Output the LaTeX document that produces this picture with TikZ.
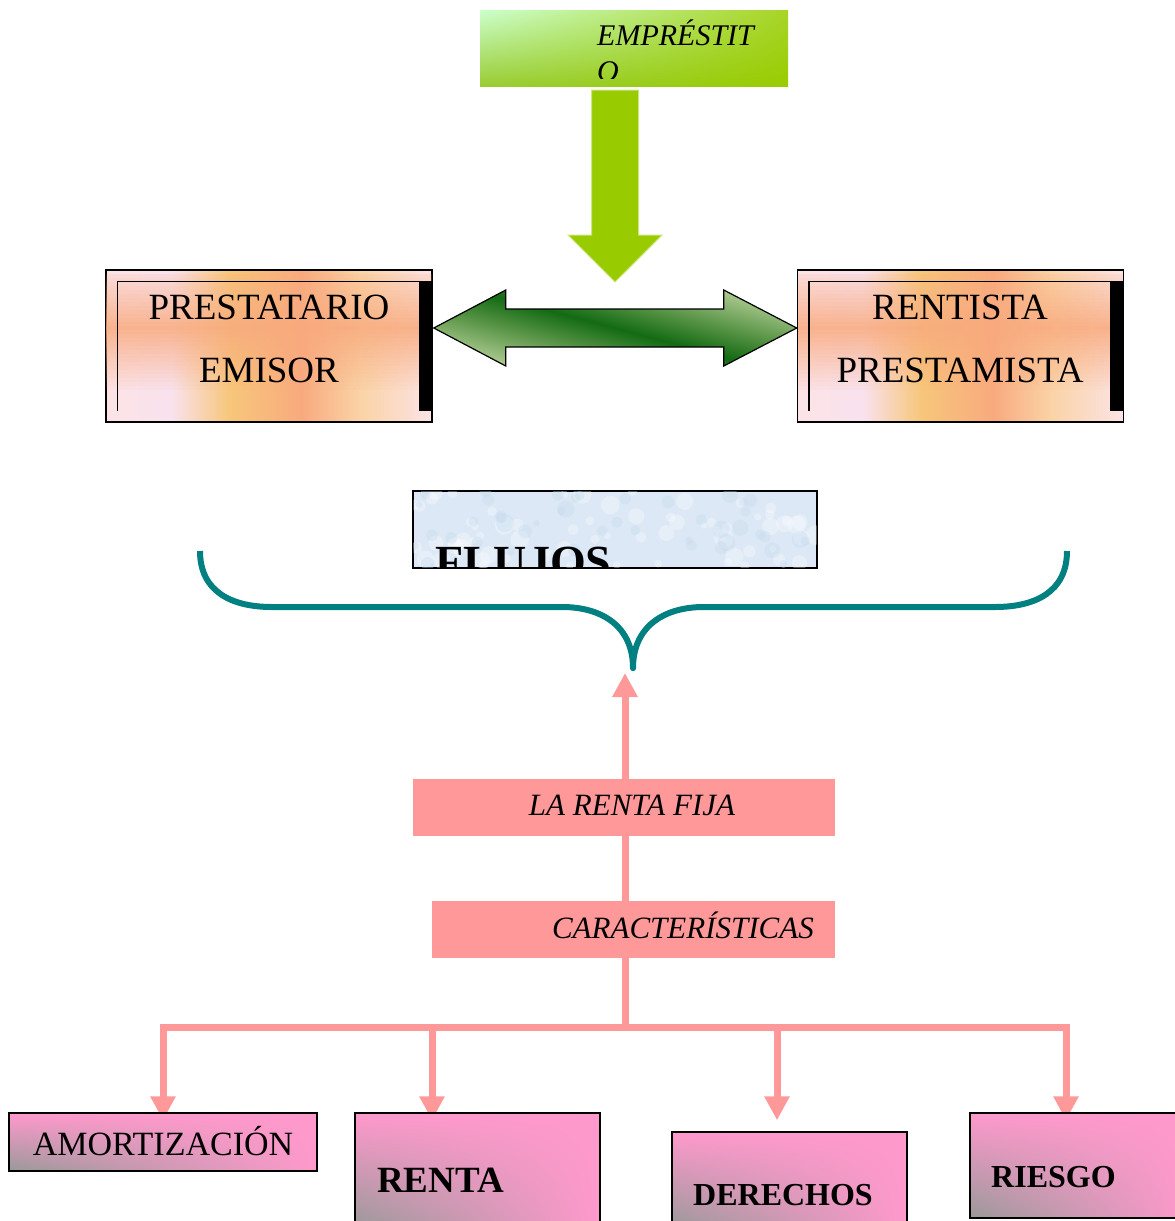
\documentclass[tikz,border=0pt]{standalone}
\usepackage{fontspec}
\setmainfont{Liberation Serif}
\usetikzlibrary{calc, arrows.meta, shadings, backgrounds}

\definecolor{limeGreen}{HTML}{99CC00}
\definecolor{mintGreen}{HTML}{CCFFCC}
\definecolor{oliveGreen}{HTML}{99CC33}
\definecolor{flowDark}{HTML}{136B13}
\definecolor{flowMid}{HTML}{4E8E3E}
\definecolor{flowLight}{HTML}{B5CF97}
\definecolor{sunPink}{HTML}{FCE3E6}
\definecolor{sunLilac}{HTML}{F9E2EE}
\definecolor{sunYellow}{HTML}{F7C67A}
\definecolor{sunOrange}{HTML}{F8AA7E}
\definecolor{sunPeach}{HTML}{FAD3A6}
\definecolor{skyBlue}{HTML}{DCE8F5}
\definecolor{skySpot}{HTML}{C6DAEE}
\definecolor{braceTeal}{HTML}{008080}
\definecolor{salmon}{HTML}{FF9999}
\definecolor{rosePink}{HTML}{FF99CC}
\definecolor{ashGray}{HTML}{999999}

\pgfdeclarehorizontalshading{sunset}{100bp}{
  color(0bp)=(sunPink); color(25bp)=(sunPink); color(35bp)=(sunLilac);
  color(44bp)=(sunYellow); color(55bp)=(sunOrange); color(64bp)=(sunPeach);
  color(75bp)=(sunPink); color(100bp)=(sunPink)}
\pgfdeclareverticalshading{flowband}{100bp}{
  color(0bp)=(flowLight); color(25bp)=(flowLight); color(41bp)=(flowMid);
  color(50bp)=(flowDark); color(59bp)=(flowMid); color(75bp)=(flowLight);
  color(100bp)=(flowLight)}

\tikzset{
  pinkLine/.style={salmon, line width=7pt},
  pinkArrow/.style={pinkLine, -{Triangle[width=24pt,length=24pt]}},
  limeBox/.style={inner sep=0pt, upper left=mintGreen,
    upper right=limeGreen!85!white, lower left=oliveGreen, lower right=limeGreen},
  sunBox/.style={draw=black, line width=1.5pt, shade, shading=sunset,
    inner sep=0pt, minimum width=326pt, minimum height=152pt},
  rosyBox/.style={draw=black, line width=1.5pt, inner sep=0pt,
    lower left=ashGray, upper left=rosePink, upper right=rosePink, lower right=rosePink},
  italicLabel/.style={font=\fontsize{31}{36}\selectfont\itshape, inner sep=0pt},
  plainLabel/.style={font=\fontsize{37}{63}\selectfont, align=center, inner sep=0pt},
  boldLabel/.style={font=\fontsize{32}{38}\selectfont\bfseries, inner sep=0pt}
}

\begin{document}
\begin{tikzpicture}[x=1pt, y=-1pt]
    \useasboundingbox (0,0) rectangle (1175,1221);

    % loan on top
    \node[limeBox, minimum width=308pt, minimum height=76pt] (loan) at (634,48) {};
    \begin{scope}
        \clip (loan.north west) rectangle ([yshift=8pt]loan.south east);
        \node[italicLabel, font=\fontsize{30}{36}\selectfont\itshape, anchor=north west, align=left]
            (loanTxt) at (597,20) {EMPRÉSTIT\\O};
    \end{scope}

    \coordinate (lendTip) at (615,282);
    \filldraw[limeGreen, draw=limeGreen!50!white, line width=1pt]
        (lendTip |- loan.south) ++(-23.5,4) -- ++(47,0) -- ++(0,145) -- ++(23.5,0)
        -- (lendTip) -- ++(-47,-47) -- ++(23.5,0) -- cycle;

    % both parties
    \node[sunBox] (borrower) at (269,346) {};
    \node[sunBox] (lender) at (960.5,346) {};
    \foreach \b in {borrower, lender} {
        % orange glow across the upper half, built from thin strips
        \foreach \k in {0,...,29}
            \fill[sunOrange, opacity={0.85*(1-abs(\k-13)/16)}]
                ($(\b.north west)+(1,5+4*\k)$) rectangle ($(\b.north east)+(-1,9.2+4*\k)$);
        \draw[line width=1.5pt] ($(\b.south west)+(12,-12)$) |- ($(\b.north east)+(-14,12)$);
        \fill ($(\b.north east)+(-14,12)$) rectangle ($(\b.south east)+(0,-12)$);
    }
    \node[plainLabel, anchor=north] (borrowerTxt) at (269,295) {PRESTATARIO\\EMISOR};
    \node[plainLabel, anchor=north] (lenderTxt) at (960,295) {RENTISTA\\PRESTAMISTA};

    \coordinate (flowL) at ($(borrower.east)+(1,-18)$);
    \coordinate (flowR) at ($(lender.west)+(0,-18)$);
    \shadedraw[shading=flowband, shading angle=-15, line width=1.2pt]
        (flowL) -- ++(72,-38) -- ++(0,19) -- ($(flowR)+(-73,-19)$) -- ++(0,-19)
        -- (flowR) -- ++(-73,38) -- ++(0,-19) -- ($(flowL)+(72,19)$) -- ++(0,19) -- cycle;

    % flows and the brace
    \node[draw=black, line width=1.5pt, fill=skyBlue, inner sep=0pt,
        minimum width=404pt, minimum height=77pt] (flows) at (615,529.5) {};
    \begin{scope}
        \clip ([shift={(1,-1)}]flows.south west) rectangle ([shift={(-1,1)}]flows.north east);
        % mottled paper look
        \pgfmathsetseed{7}
        \foreach \i in {1,...,70}
            \fill[white, opacity=0.3] ($(flows.north west)+(rnd*404,rnd*77)$) circle ({3+rnd*7});
        \foreach \i in {1,...,45}
            \fill[skySpot, opacity=0.35] ($(flows.north west)+(rnd*404,rnd*77)$) circle ({3+rnd*6});
        \node[anchor=base west, inner sep=0pt, font=\fontsize{46}{50}\selectfont\bfseries]
            (flowsTxt) at (435,577) {FLUJOS};
    \end{scope}

    \coordinate (braceTip) at (633,668);
    \draw[braceTeal, line width=6pt, line join=round]
        (200,551) .. controls (200,592) and (232,607) .. (272,607) -- (562,607)
        .. controls (604,607) and (633,628) .. (braceTip)
        .. controls (633,628) and (662,607) .. (704,607) -- (995,607)
        .. controls (1035,607) and (1067,592) .. (1067,551);
    \fill[braceTeal] (braceTip) circle (3pt);

    % fixed income and its features
    \node[fill=salmon, inner sep=0pt, minimum width=422pt, minimum height=57pt] (fixedIncome) at (624,807.5) {};
    \node[italicLabel, anchor=base] (fixedTxt) at (632,815) {LA RENTA FIJA};
    \node[fill=salmon, inner sep=0pt, minimum width=403pt, minimum height=57pt] (traits) at (633.5,929.5) {};
    \node[italicLabel, anchor=base east] (traitsTxt) at (814,938) {CARACTERÍSTICAS};

    \node[rosyBox, minimum width=308pt, minimum height=58pt] (amort) at (163,1142) {};
    \node[rosyBox, minimum width=245pt, minimum height=116pt] (renta) at (477.5,1171) {};
    \node[rosyBox, minimum width=235pt, minimum height=96pt] (derechos) at (789.5,1180) {};
    \node[rosyBox, minimum width=220pt, minimum height=105pt] (riesgo) at (1080,1165.5) {};
    \node[anchor=base, inner sep=0pt, font=\fontsize{34}{38}\selectfont] (amortTxt) at (163,1155) {AMORTIZACIÓN};
    \node[boldLabel, anchor=base west, font=\fontsize{37}{40}\selectfont\bfseries] (rentaTxt) at (377,1192) {RENTA};
    \node[boldLabel, anchor=base west] (derechosTxt) at (693,1205) {DERECHOS};
    \node[boldLabel, anchor=base west] (riesgoTxt) at (991,1187) {RIESGO};

    % pink connectors under the boxes
    \begin{pgfonlayer}{background}
        \coordinate (split) at (625,1027);
        \draw[pinkArrow, shorten >=5pt] ([yshift=-4pt]split) -- (split |- braceTip);
        \coordinate (amortDrop) at (163,1027);
        \coordinate (rentaDrop) at (432,1027);
        \coordinate (derDrop) at (777,1027);
        \coordinate (riskDrop) at (1066,1027);
        \draw[pinkLine] ([xshift=-3.5pt]amortDrop) -- ([xshift=3.5pt]riskDrop);
        \foreach \drop/\b/\s in {amortDrop/amort/-8, rentaDrop/renta/-8, derDrop/derechos/11, riskDrop/riesgo/-8}
            \draw[pinkArrow, shorten >=\s pt] (\drop) -- (\drop |- \b.north);
    \end{pgfonlayer}
\end{tikzpicture}
\end{document}
